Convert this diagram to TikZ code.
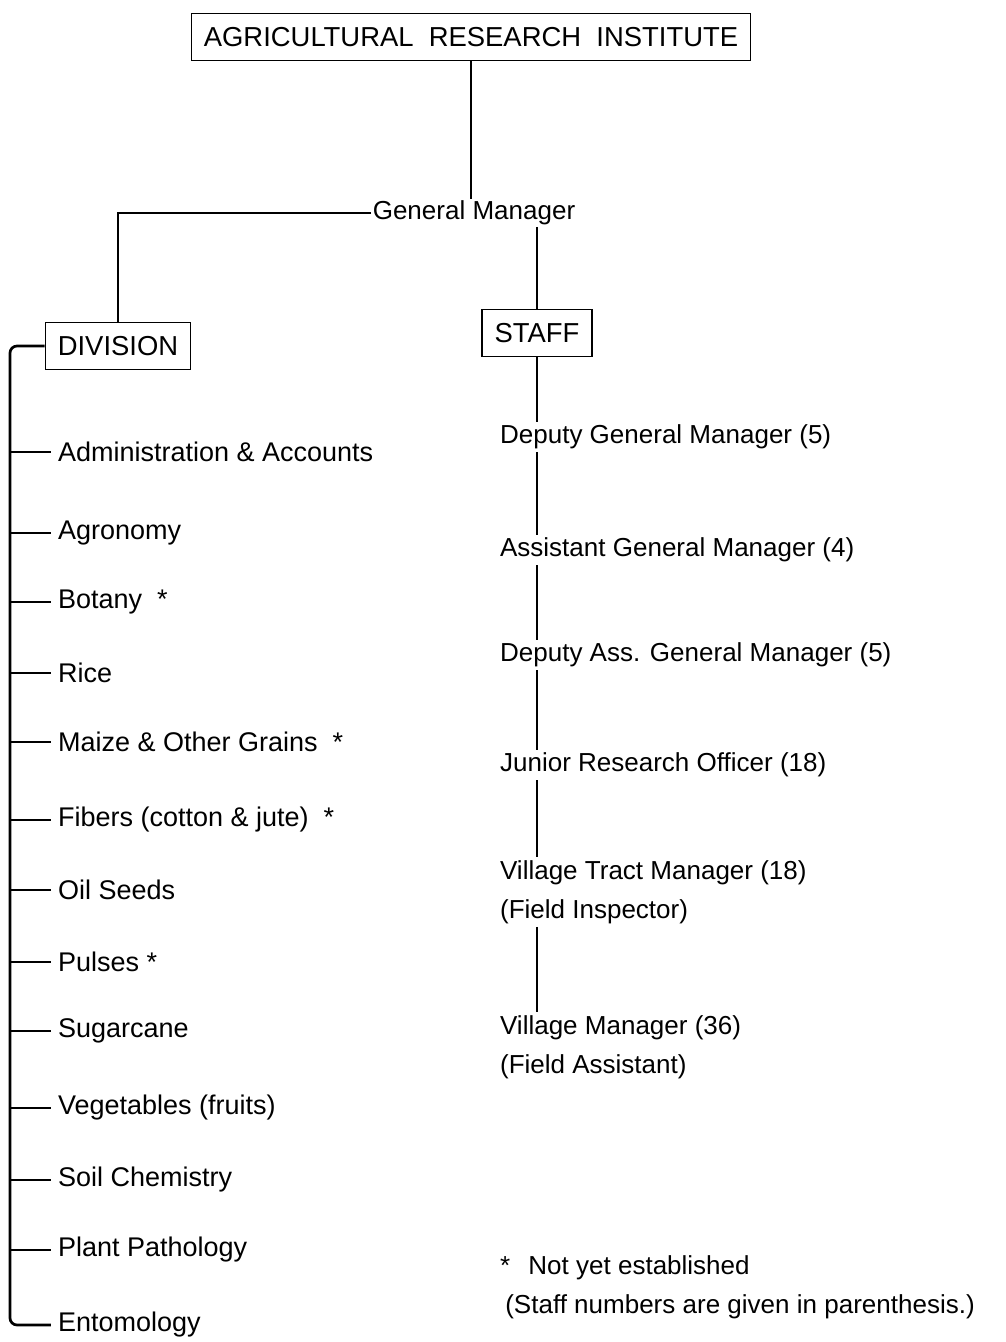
\documentclass[tikz,border=0pt]{standalone}
\usepackage{fontspec}
\setmainfont{Liberation Sans}
\usetikzlibrary{positioning,calc}

\begin{document}
\begin{tikzpicture}[
    x=0.025cm, y=-0.025cm,
    unit/.style={rectangle, draw, line width=0.9pt, inner xsep=9pt, minimum height=33pt, font=\fontsize{19.5}{23}\selectfont},
    post/.style={anchor=west, inner sep=2pt, align=left, font=\fontsize{18.5}{28}\selectfont},
    branch/.style={post, font=\fontsize{19.2}{23}\selectfont},
    link/.style={line width=1.4pt},
    spine/.style={line width=1.9pt, rounded corners=5pt}
]
    \useasboundingbox (0,0) rectangle (1006,1342);

    % top of the chart
    \node[unit] (ari) at (471,37) {AGRICULTURAL\ \ RESEARCH\ \ INSTITUTE};
    \node[post, anchor=center, inner sep=1pt] (gm) at (474,213) {General Manager};
    \node[unit] (division) at (118,346) {DIVISION};
    \node[unit] (staff) at (537,333) {STAFF};
    \coordinate (bar) at (10,346);

    \draw[link] (ari.south) -- (gm.north -| ari.south);
    \draw[link] (gm.west) -| (division.north);
    \draw[link] (gm.south -| staff.north) -- (staff.north);

    % divisions
    \foreach \name/\ypos/\txt in {adm/452/Administration \& Accounts, agr/533/Agronomy, bot/602/Botany\ \ *,
        rice/673/Rice, maize/742/Maize \& Other Grains\ \ *, fib/820/Fibers (cotton \& jute)\ \ *,
        oil/890/Oil Seeds, pul/962/Pulses\ *, sug/1031/Sugarcane, veg/1108/Vegetables (fruits),
        soil/1180/Soil Chemistry, path/1250/Plant Pathology, ent/1325/Entomology}
        \node[branch] (\name) at (55,\ypos) {\txt};

    \draw[spine] (division.west) -| (bar |- ent.west) -- ([xshift=-3pt]ent.west);
    \foreach \name in {adm,agr,bot,rice,maize,fib,oil,pul,sug,veg,soil,path}
        \draw[link, shorten >=3pt] (bar |- \name.west) -- (\name.west);

    % staff
    \node[post] (dgm) at (497,437) {Deputy General Manager (5)};
    \node[post] (agm) at (497,550) {Assistant General Manager (4)};
    \node[post] (dagm) at (497,655) {Deputy Ass. General Manager (5)};
    \node[post] (jro) at (497,765) {Junior Research Officer (18)};
    \node[post] (vtm) at (497,892) {Village Tract Manager (18)\\(Field Inspector)};
    \node[post] (vm) at (497,1047) {Village Manager (36)\\(Field Assistant)};

    \draw[link] (staff.south) -- (dgm.north -| staff.south);
    \foreach \from/\to in {dgm/agm, agm/dagm, dagm/jro, jro/vtm, vtm/vm}
        \draw[link] (\from.south -| staff.south) -- (\to.north -| staff.south);

    % footnote
    \node[post] (note) at (497,1287) {*\hspace{0.7em}Not yet established\\\hspace{0.2em}(Staff numbers are given in parenthesis.)};
\end{tikzpicture}
\end{document}
